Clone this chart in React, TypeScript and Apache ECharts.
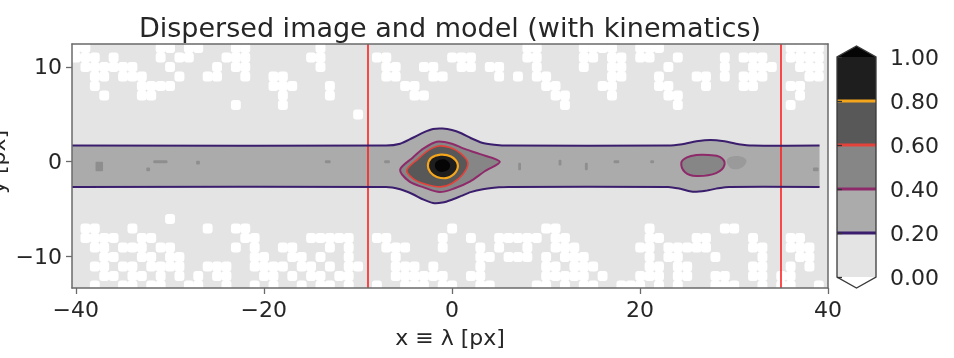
import React, { useEffect, useRef } from "react";
import * as echarts from "echarts";

// ---- axes ----
const xTicks = [-40, -20, 0, 20, 40];
const yTicks = [-10, 0, 10];
const xRange: [number, number] = [-40.4, 40];
const yRange: [number, number] = [-13.3, 12.4];

// ---- contour levels and colours ----
const levels = [0, 0.2, 0.4, 0.6, 0.8, 1.0];
const bandColors = ["#e4e4e4", "#ababab", "#868686", "#585858", "#1e1e1e"];
const underColor = "#ffffff";
const overColor = "#050505";
const lineColors = ["#3a1d6c", "#8e2a6a", "#e3433b", "#f3a51c"]; // 0.2, 0.4, 0.6, 0.8
const redLinesX = [-9, 35];

// ---- 0.2 contour (trace band), upper and lower edges ----
const bandUpper: [number, number][] = [
  [-40.4, 1.7], [-7, 1.7], [-5.5, 1.9], [-4.2, 2.5], [-3, 3.1], [-2, 3.45], [-1, 3.5],
  [0, 3.35], [1, 3.0], [2, 2.5], [3.2, 2.0], [4.5, 1.8], [6, 1.7], [23, 1.7], [24.5, 1.85],
  [26, 2.15], [27.5, 2.3], [29, 2.15], [30.5, 1.85], [32, 1.7], [39.1, 1.7],
];
const bandLower: [number, number][] = [
  [-40.4, -2.65], [-7, -2.65], [-5.5, -2.9], [-4.2, -3.4], [-3, -4.0], [-2, -4.35], [-1, -4.3],
  [0, -4.0], [1, -3.6], [2, -3.2], [3.3, -2.9], [5, -2.7], [6, -2.65], [23, -2.65], [24.3, -2.85],
  [25.6, -3.15], [27, -3.05], [28.3, -2.8], [29.5, -2.65], [39.1, -2.65],
];

// ---- inner closed contours ----
const c04Main: [number, number][] = [
  [-5.5, -0.85], [-4.2, 0.4], [-3, 1.4], [-1.6, 2.1], [0, 1.9], [1.2, 1.4], [3, 0.8], [5.1, 0],
  [3.5, -1.0], [1.9, -2.1], [0.3, -2.8], [-1.3, -3.2], [-3, -2.7], [-4.5, -2.1],
];
const c06Main: [number, number][] = [
  [-4.8, -0.9], [-3.6, 0.3], [-2.5, 1.2], [-1.4, 1.65], [-0.2, 1.5], [0.9, 0.9], [1.7, -0.1],
  [1.2, -1.3], [0, -2.3], [-1.2, -2.65], [-2.7, -2.4], [-4.1, -1.8],
];
const c08Main: [number, number][] = [
  [-2.55, -0.4], [-2.2, 0.4], [-1.2, 0.75], [-0.1, 0.55], [0.6, -0.2], [0.4, -1.1],
  [-0.5, -1.7], [-1.6, -1.6], [-2.3, -1.1],
];
const coreMain: [number, number][] = [
  [-1.8, -0.3], [-1.3, 0.2], [-0.5, 0.1], [-0.2, -0.5], [-0.7, -1.0], [-1.5, -0.95],
];
const c04Second: [number, number][] = [
  [24.4, -0.1], [25, 0.45], [26, 0.7], [27.3, 0.7], [28.5, 0.5], [29, -0.3], [28.1, -1.2],
  [26, -1.5], [24.8, -1.1],
];
const smudgeSecond: [number, number][] = [
  [29.3, 0.3], [30.3, 0.6], [31.3, 0.2], [31, -0.5], [30, -0.8], [29.4, -0.4],
];

// ---- small 0.4-level spots inside the trace: [x, y, w, h] ----
const speckles: [number, number, number, number][] = [
  [-37.5, -0.5, 0.8, 1.0], [-31, 0, 1.5, 0.3], [-32.3, -0.8, 0.4, 0.4], [-27, -0.1, 0.4, 0.4],
  [-13.2, 0, 0.6, 0.3], [-6.9, 0, 0.6, 0.3], [7.2, -0.5, 0.3, 0.8], [11.5, -0.1, 0.3, 0.6],
  [14.3, -0.5, 0.3, 0.8], [17.5, 0, 0.6, 0.3], [21.3, 0, 0.4, 0.3], [38.7, -0.8, 0.6, 0.4],
];

// ---- background noise below 0 (white cells), row y -> x cells ----
const noiseRows: [number, number[]][] = [
  [12, [-40, -39, -31, -30, -28, -27, -23, -22, -14, 8, 9, 14, 15, 16, 17, 20, 21, 22, 36, 37, 38, 39]],
  [11, [-40, -39, -38, -36, -31, -29, -28, -24, -23, -22, -15, -14, -8, -7, 0, 1, 2, 8, 9, 14, 15, 17, 18, 20, 21, 24, 29, 31, 32, 33, 36, 37, 38, 39]],
  [10, [-39, -38, -37, -36, -35, -34, -30, -25, -23, -22, -14, -7, -6, -3, -2, 1, 2, 4, 5, 9, 14, 17, 18, 23, 29, 32, 33, 34, 37, 38, 39]],
  [9, [-38, -37, -35, -34, -33, -29, -26, -25, -22, -19, -18, -7, -6, -2, -1, 5, 7, 9, 10, 17, 18, 22, 26, 27, 29, 31, 32, 33, 38, 39]],
  [8, [-38, -33, -32, -31, -30, -19, -18, -17, -13, -5, -4, 10, 11, 16, 17, 22, 23, 27, 31, 32, 36, 37]],
  [7, [-37, -33, -32, -18, -13, -4, -3, 11, 12, 17, 23, 24, 37]],
  [6, [-23, -18, 12, 24, 36]],
  [5, [-10]],
  [-6, [-30]],
  [-7, [-39, -38, -34, -26, -23, -22, 0, 10, 11, 21, 29, 30]],
  [-8, [-39, -38, -37, -36, -33, -32, -22, -21, -15, -14, -13, -12, -11, -8, -7, -1, 2, 5, 6, 7, 8, 9, 11, 12, 21, 22, 26, 27, 32, 36, 37]],
  [-9, [-38, -37, -35, -34, -33, -31, -30, -23, -21, -18, -17, -13, -11, -7, -6, -5, -1, 3, 5, 8, 11, 12, 13, 20, 21, 23, 24, 25, 26, 27, 32, 33, 36, 37, 38]],
  [-10, [-37, -36, -33, -32, -30, -29, -21, -20, -17, -16, -14, -11, -6, 3, 4, 6, 7, 8, 10, 12, 13, 14, 21, 23, 24, 28, 33, 37, 38]],
  [-11, [-38, -37, -35, -34, -32, -31, -30, -29, -26, -25, -24, -21, -20, -19, -18, -16, -15, -13, -11, -10, -6, -5, -4, -2, 3, 10, 11, 13, 14, 15, 21, 22, 24, 25, 32, 33, 36, 38]],
  [-12, [-37, -36, -34, -33, -31, -29, -27, -25, -24, -20, -19, -17, -15, -14, -12, -11, -6, -5, -4, -3, -2, -1, 2, 3, 10, 11, 12, 13, 14, 16, 20, 21, 22, 24, 25, 28, 29, 32, 33, 35, 36]],
  [-13, [-38, -35, -34, -32, -31, -28, -27, -24, -21, -19, -16, -14, -13, -11, -8, -5, -4, -3, -1, 0, 3, 4, 9, 10, 12, 14, 15, 18, 19, 20, 22, 24, 28, 29, 30, 33, 35, 36, 39]],
];

const FONT = "DejaVu Sans";
const TXT = "#262626";
const SPINE = "#6a6a6a";
const minus = (v: number) => String(v).replace("-", "\u2212");

type Layer = { pts: [number, number][]; fill?: string; stroke?: string; closed: boolean; smooth: number; lw?: number };

export default function App() {
  const ref = useRef<HTMLDivElement>(null);
  useEffect(() => {
    if (!ref.current) return;
    const chart = echarts.init(ref.current, undefined, { renderer: "svg" });

    const bandPolygon: [number, number][] = [...bandUpper, ...bandLower.slice().reverse()];
    const fillLayers: Layer[] = [{ pts: bandPolygon, fill: bandColors[1], closed: true, smooth: 0 }];
    const lineLayers: Layer[] = [
      { pts: bandUpper, stroke: lineColors[0], closed: false, smooth: 0.25, lw: 2 },
      { pts: bandLower, stroke: lineColors[0], closed: false, smooth: 0.25, lw: 2 },
      { pts: smudgeSecond, fill: "#9a9a9a", closed: true, smooth: 0.4 },
      { pts: c04Second, fill: bandColors[2], stroke: lineColors[1], closed: true, smooth: 0.4, lw: 2 },
      { pts: c04Main, fill: bandColors[2], stroke: lineColors[1], closed: true, smooth: 0.3, lw: 2 },
      { pts: c06Main, fill: bandColors[3], stroke: lineColors[2], closed: true, smooth: 0.3, lw: 1.6 },
      { pts: c08Main, fill: bandColors[4], stroke: lineColors[3], closed: true, smooth: 0.45, lw: 2.2 },
      { pts: coreMain, fill: overColor, closed: true, smooth: 0.45 },
    ];

    const layerRender = (layers: Layer[]) => (params: any, api: any) => {
      const L = layers[api.value(2)];
      const points = L.pts.map((p) => api.coord(p));
      return {
        type: L.closed ? "polygon" : "polyline",
        shape: { points, smooth: L.smooth },
        style: {
          fill: L.fill ?? "none",
          stroke: L.stroke ?? "none",
          lineWidth: L.lw ?? 0,
          lineJoin: "round",
        },
      };
    };

    const noiseData: number[][] = [];
    noiseRows.forEach(([y, xs]) => xs.forEach((x) => noiseData.push([x, y])));

    const ext = 0.05;
    const axisText = { fontFamily: FONT, fontSize: 22, color: TXT };

    chart.setOption({
      animation: false,
      grid: [
        { left: 72, top: 44, width: 756, height: 244, show: true, backgroundColor: bandColors[0], borderWidth: 0 },
        { left: 837, top: 57, width: 39, height: 220, show: false },
      ],
      xAxis: [
        {
          type: "value", gridIndex: 0, min: xRange[0], max: xRange[1], position: "bottom", z: 10,
          axisLine: { show: true, onZero: false, lineStyle: { color: SPINE, width: 1.5 } },
          axisTick: { show: true, customValues: xTicks, length: 6, lineStyle: { color: SPINE, width: 1.3 } },
          axisLabel: { customValues: xTicks, formatter: minus, margin: 10, ...axisText },
          splitLine: { show: false },
          name: "x \u2261 \u03bb [px]", nameLocation: "middle", nameGap: 38,
          nameTextStyle: { ...axisText },
        },
        {
          type: "value", gridIndex: 0, min: xRange[0], max: xRange[1], position: "top", z: 10,
          axisLine: { show: true, onZero: false, lineStyle: { color: SPINE, width: 1.5 } },
          axisTick: { show: false }, axisLabel: { show: false }, splitLine: { show: false },
        },
        { type: "value", gridIndex: 1, min: 0, max: 1, show: false },
      ],
      yAxis: [
        {
          type: "value", gridIndex: 0, min: yRange[0], max: yRange[1], position: "left", z: 10,
          axisLine: { show: true, onZero: false, lineStyle: { color: SPINE, width: 1.5 } },
          axisTick: { show: true, customValues: yTicks, length: 6, lineStyle: { color: SPINE, width: 1.3 } },
          axisLabel: { customValues: yTicks, formatter: minus, margin: 10, ...axisText },
          splitLine: { show: false },
        },
        {
          type: "value", gridIndex: 0, min: yRange[0], max: yRange[1], position: "right", z: 10,
          axisLine: { show: true, onZero: false, lineStyle: { color: SPINE, width: 1.5 } },
          axisTick: { show: false }, axisLabel: { show: false }, splitLine: { show: false },
        },
        {
          type: "value", gridIndex: 1, min: 0, max: 1, interval: 0.2, position: "right", z: 10,
          axisLine: { show: false },
          axisTick: { show: true, length: 5, lineStyle: { color: "#333", width: 1.3 } },
          axisLabel: { formatter: (v: number) => v.toFixed(2), margin: 14, ...axisText },
          splitLine: { show: false },
        },
      ],
      graphic: [
        {
          type: "text", x: 450, y: 27, z: 20,
          style: { text: "Dispersed image and model (with kinematics)", font: `27px '${FONT}'`, fill: TXT, textAlign: "center", textVerticalAlign: "middle" },
        },
        {
          type: "text", x: -3, y: 162, rotation: Math.PI / 2, z: 20,
          style: { text: "y [px]", font: `22px '${FONT}'`, fill: TXT, textAlign: "center", textVerticalAlign: "middle" },
        },
      ],
      series: [
        {
          type: "custom", name: "noise", xAxisIndex: 0, yAxisIndex: 0, clip: true, z: 2, silent: true,
          data: noiseData,
          renderItem: (params: any, api: any) => {
            const p = api.coord([api.value(0) - 0.5, api.value(1) + 0.5]);
            const s = api.size([1, 1]);
            return { type: "rect", shape: { x: p[0], y: p[1], width: s[0] + 0.5, height: s[1] + 0.5, r: 3 }, style: { fill: underColor } };
          },
        },
        {
          type: "custom", name: "bandFill", xAxisIndex: 0, yAxisIndex: 0, clip: true, z: 3, silent: true,
          data: fillLayers.map((_, i) => [0, 0, i]), encode: { x: 0, y: 1 },
          renderItem: layerRender(fillLayers),
        },
        {
          type: "custom", name: "speckles", xAxisIndex: 0, yAxisIndex: 0, clip: true, z: 4, silent: true,
          data: speckles,
          renderItem: (params: any, api: any) => {
            const w = api.value(2), h = api.value(3);
            const p = api.coord([api.value(0) - w / 2, api.value(1) + h / 2]);
            const s = api.size([w, h]);
            return { type: "rect", shape: { x: p[0], y: p[1], width: s[0], height: s[1], r: 1 }, style: { fill: "#8e8e8e" } };
          },
        },
        {
          type: "custom", name: "contours", xAxisIndex: 0, yAxisIndex: 0, clip: true, z: 5, silent: true,
          data: lineLayers.map((_, i) => [0, 0, i]), encode: { x: 0, y: 1 },
          renderItem: layerRender(lineLayers),
          markLine: {
            silent: true, symbol: ["none", "none"], label: { show: false },
            lineStyle: { color: "#ff1f1f", width: 1.6, type: "solid" },
            data: redLinesX.map((x) => ({ xAxis: x })),
          },
        },
        // colorbar
        {
          type: "custom", name: "cbBands", xAxisIndex: 2, yAxisIndex: 2, z: 3, silent: true,
          data: bandColors.map((_, i) => [0.5, levels[i], levels[i + 1], i]), encode: { x: 0, y: 1 },
          renderItem: (params: any, api: any) => {
            const a = api.coord([0, api.value(2)]);
            const b = api.coord([1, api.value(1)]);
            return { type: "rect", shape: { x: a[0], y: a[1], width: b[0] - a[0], height: b[1] - a[1] }, style: { fill: bandColors[api.value(3)] } };
          },
        },
        {
          type: "custom", name: "cbExt", xAxisIndex: 2, yAxisIndex: 2, z: 3, silent: true, clip: false,
          data: [[0.5, 1, 1], [0.5, 0, -1]], encode: { x: 0, y: 1 },
          renderItem: (params: any, api: any) => {
            const v = api.value(1), d = api.value(2);
            const pts = [api.coord([0, v]), api.coord([1, v]), api.coord([0.5, v + d * ext])];
            return { type: "polygon", shape: { points: pts }, style: { fill: d > 0 ? overColor : underColor } };
          },
        },
        {
          type: "custom", name: "cbLines", xAxisIndex: 2, yAxisIndex: 2, z: 4, silent: true,
          data: lineColors.map((_, i) => [0.5, levels[i + 1], i]), encode: { x: 0, y: 1 },
          renderItem: (params: any, api: any) => {
            const a = api.coord([0, api.value(1)]);
            const b = api.coord([1, api.value(1)]);
            return { type: "line", shape: { x1: a[0], y1: a[1], x2: b[0], y2: b[1] }, style: { stroke: lineColors[api.value(2)], lineWidth: 3 } };
          },
        },
        {
          type: "custom", name: "cbOutline", xAxisIndex: 2, yAxisIndex: 2, z: 5, silent: true, clip: false,
          data: [[0.5, 0.5]], encode: { x: 0, y: 1 },
          renderItem: (params: any, api: any) => {
            const pts = [[0, 0], [0, 1], [0.5, 1 + ext], [1, 1], [1, 0], [0.5, -ext]].map((p) => api.coord(p));
            return { type: "polygon", shape: { points: pts }, style: { fill: "none", stroke: "#3a3a3a", lineWidth: 1.3 } };
          },
        },
      ],
    });
    return () => chart.dispose();
  }, []);
  return <div ref={ref} style={{ position: "fixed", left: 0, top: 0, width: 954, height: 358 }} />;
}
